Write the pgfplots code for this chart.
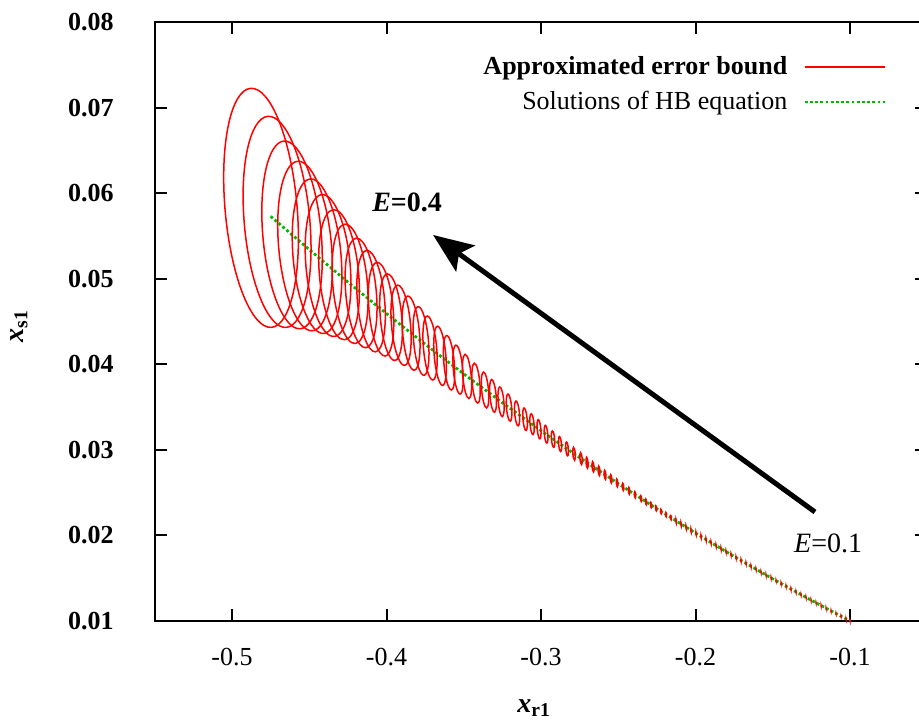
\documentclass[border=0pt]{standalone}
\usepackage{pgfplots}
\pgfplotsset{compat=1.18}
\usepackage{pgfplotstable}
\usepackage{fontspec}
\setmainfont{Liberation Serif}
\usetikzlibrary{arrows.meta}
\definecolor{hbgreen}{rgb}{0,0.72,0}

% error-bound ellipses: centre (x,y), vertical semi-axis ra (y units), horizontal semi-axis rb (x units)
\pgfplotstableread{
x y ra rb
-0.48123 0.05828 0.01402 0.0233
-0.47087 0.05664 0.01238 0.02123
-0.46117 0.05512 0.01101 0.01890
-0.45275 0.05382 0.00994 0.01709
-0.44498 0.05263 0.00906 0.01553
-0.43786 0.05154 0.00832 0.01430
-0.43074 0.05047 0.00763 0.01269
-0.42362 0.04940 0.00700 0.01120
-0.41650 0.04834 0.00643 0.00990
-0.41003 0.04738 0.00595 0.00880
-0.40356 0.04644 0.00550 0.00783
-0.39709 0.04550 0.00508 0.00693
-0.39061 0.04456 0.00471 0.00615
-0.38414 0.04364 0.00435 0.00544
-0.37767 0.04272 0.00403 0.00479
-0.37184 0.04190 0.00375 0.00427
-0.36537 0.04099 0.00347 0.00375
-0.35955 0.04018 0.00319 0.00337
-0.35372 0.03938 0.00287 0.00304
-0.34790 0.03858 0.00259 0.00272
-0.34207 0.03779 0.00234 0.00246
-0.33625 0.03700 0.00210 0.00220
-0.33107 0.03631 0.00192 0.00201
-0.32589 0.03562 0.00174 0.00181
-0.32071 0.03494 0.00159 0.00168
-0.31553 0.03426 0.00145 0.00155
-0.31036 0.03358 0.00132 0.00136
-0.30583 0.03300 0.00122 0.00129
-0.30129 0.03241 0.00112 0.00117
-0.29676 0.03183 0.00104 0.00110
-0.29223 0.03125 0.00096 0.00104
-0.28770 0.03068 0.00088 0.00091
-0.28317 0.03011 0.00081 0.00084
-0.27864 0.02954 0.00075 0.00078
-0.27411 0.02898 0.00069 0.00071
-0.27023 0.02850 0.00064 0.00065
-0.26634 0.02802 0.00060 0.00063
-0.26246 0.02755 0.00056 0.00058
-0.25858 0.02708 0.00053 0.00055
-0.25469 0.02661 0.00049 0.00052
-0.25081 0.02614 0.00046 0.00048
-0.24693 0.02568 0.00042 0.00045
-0.24304 0.02522 0.00040 0.00041
-0.23916 0.02476 0.00037 0.00039
-0.23528 0.02430 0.00034 0.00036
-0.23204 0.02392 0.00033 0.00034
-0.22880 0.02355 0.000306 0.00032
-0.22557 0.02317 0.000289 0.00030
-0.22233 0.02280 0.000272 0.00029
-0.21909 0.02243 0.000257 0.00027
-0.21586 0.02206 0.000243 0.00026
-0.21262 0.02169 0.000229 0.00024
-0.20939 0.02132 0.000216 0.00023
-0.20615 0.02096 0.000205 0.00022
-0.20291 0.02060 0.000193 0.00020
-0.19968 0.02024 0.000182 0.00019
-0.19644 0.01988 0.000172 0.00018
-0.19320 0.01952 0.000161 0.00017
-0.18997 0.01917 0.000153 0.00016
-0.18673 0.01881 0.000144 0.00015
-0.18350 0.01846 0.000136 0.00014
-0.18026 0.01811 0.000129 0.00014
-0.17702 0.01776 0.000122 0.00013
-0.17379 0.01742 0.000115 0.00012
-0.17055 0.01707 0.000108 0.00011
-0.16731 0.01673 0.000102 0.00011
-0.16408 0.01639 0.000096 0.00010
-0.16084 0.01605 0.000090 0.00010
-0.15761 0.01571 0.000085 0.00009
-0.15437 0.01537 0.000081 0.00008
-0.15113 0.01504 0.000076 0.00008
-0.14790 0.01471 0.000071 0.00008
-0.14466 0.01438 0.000068 0.00007
-0.14142 0.01405 0.000064 0.00007
-0.13819 0.01372 0.000061 0.00006
-0.13495 0.01340 0.000057 0.00006
-0.13172 0.01307 0.000054 0.00006
-0.12848 0.01275 0.000050 0.00005
-0.12524 0.01243 0.000048 0.00005
-0.12201 0.01212 0.000046 0.00005
-0.11877 0.01180 0.000042 0.00004
-0.11553 0.01148 0.000040 0.00004
-0.11230 0.01117 0.000037 0.00004
-0.10906 0.01086 0.000035 0.00004
-0.10583 0.01055 0.000034 0.00004
-0.10259 0.01024 0.000032 0.00003
-0.10000 0.01000 0.000030 0.00003
}\ellipsestab

\pgfplotstableread{
x y
-0.475 0.05729
-0.450 0.05340
-0.425 0.04960
-0.400 0.04592
-0.375 0.04234
-0.350 0.03887
-0.325 0.03550
-0.300 0.03224
-0.275 0.02909
-0.250 0.02605
-0.225 0.02311
-0.200 0.02027
-0.175 0.01754
-0.150 0.01492
-0.125 0.01241
-0.100 0.01000
}\hbsol

% ellipse mark, tilted 5 degrees; \ellA, \ellB are semi-axes in pt
\pgfdeclareplotmark{errell}{%
  \pgfpathellipse{\pgfpointorigin}%
    {\pgfpoint{0.9962*\ellB}{0.0872*\ellB}}%
    {\pgfpoint{-0.0872*\ellA}{0.9962*\ellA}}%
  \pgfusepathqstroke}

\begin{document}
\begin{tikzpicture}
\begin{axis}[
  at={(77.4pt,50pt)}, anchor=south west,
  scale only axis, width=386.25pt, height=299.5pt,
  xmin=-0.55, xmax=-0.05, ymin=0.01, ymax=0.08,
  xtick={-0.5,-0.4,-0.3,-0.2,-0.1},
  ytick={0.01,0.02,0.03,0.04,0.05,0.06,0.07,0.08},
  scaled x ticks=false, scaled y ticks=false,
  /pgf/number format/assume math mode=true,
  tick align=inside, major tick length=6pt,
  every tick/.style={black, line width=1pt},
  axis line style={line width=1pt},
  yticklabel style={/pgf/number format/fixed, /pgf/number format/fixed zerofill, /pgf/number format/precision=2,
    font=\fontsize{13}{15}\selectfont\bfseries, anchor=east, xshift=-17pt},
  xticklabel style={/pgf/number format/fixed, /pgf/number format/precision=1,
    font=\fontsize{13}{15}\selectfont, anchor=center, yshift=-18pt},
  xlabel={\textit{x}\textsubscript{r1}}, ylabel={\textit{x}\textsubscript{s1}},
  label style={font=\fontsize{14}{16}\selectfont\bfseries},
  xlabel style={at={(axis description cs:0.491,-0.145)}, anchor=center},
  ylabel style={at={(axis description cs:-0.176,0.492)}, anchor=center},
  legend style={draw=none, fill=none, at={(axis description cs:0.955,0.9566)}, anchor=north east,
    font=\fontsize{13}{15}\selectfont, row sep=3pt},
  legend cell align=right, legend plot pos=right,
  legend image code/.code={\path (0pt,0pt); \draw[#1] (6pt,0pt) -- (46pt,0pt);},
]
\addplot[red, only marks, mark=errell, mark options={solid, red, line width=0.75pt},
  visualization depends on={4278.6*\thisrow{ra} \as \ellA},
  visualization depends on={772.5*\thisrow{rb} \as \ellB}, forget plot]
  table[x=x, y=y] {\ellipsestab};
\addlegendimage{red, line width=0.7pt}
\addlegendentry{\textbf{Approximated error bound}}
\addplot[hbgreen, line width=1.4pt, dash pattern=on 1.4pt off 1.2pt] table[x=x, y=y] {\hbsol};
\addlegendentry{Solutions of HB equation}

\draw[line width=2.5pt, -{Stealth[length=20pt,width=16pt,inset=4pt]}]
  (axis cs:-0.1227,0.02274) -- (axis cs:-0.3699,0.05511);
\node[font=\fontsize{14}{16}\selectfont\bfseries] at (axis cs:-0.3867,0.05896) {\textit{E}=0.4};
\node[font=\fontsize{14}{16}\selectfont] at (axis cs:-0.1142,0.01911) {\textit{E}=0.1};
\end{axis}
\pgfresetboundingbox
\useasboundingbox (0,0) rectangle (459.5pt,360.5pt);
\end{tikzpicture}
\end{document}
